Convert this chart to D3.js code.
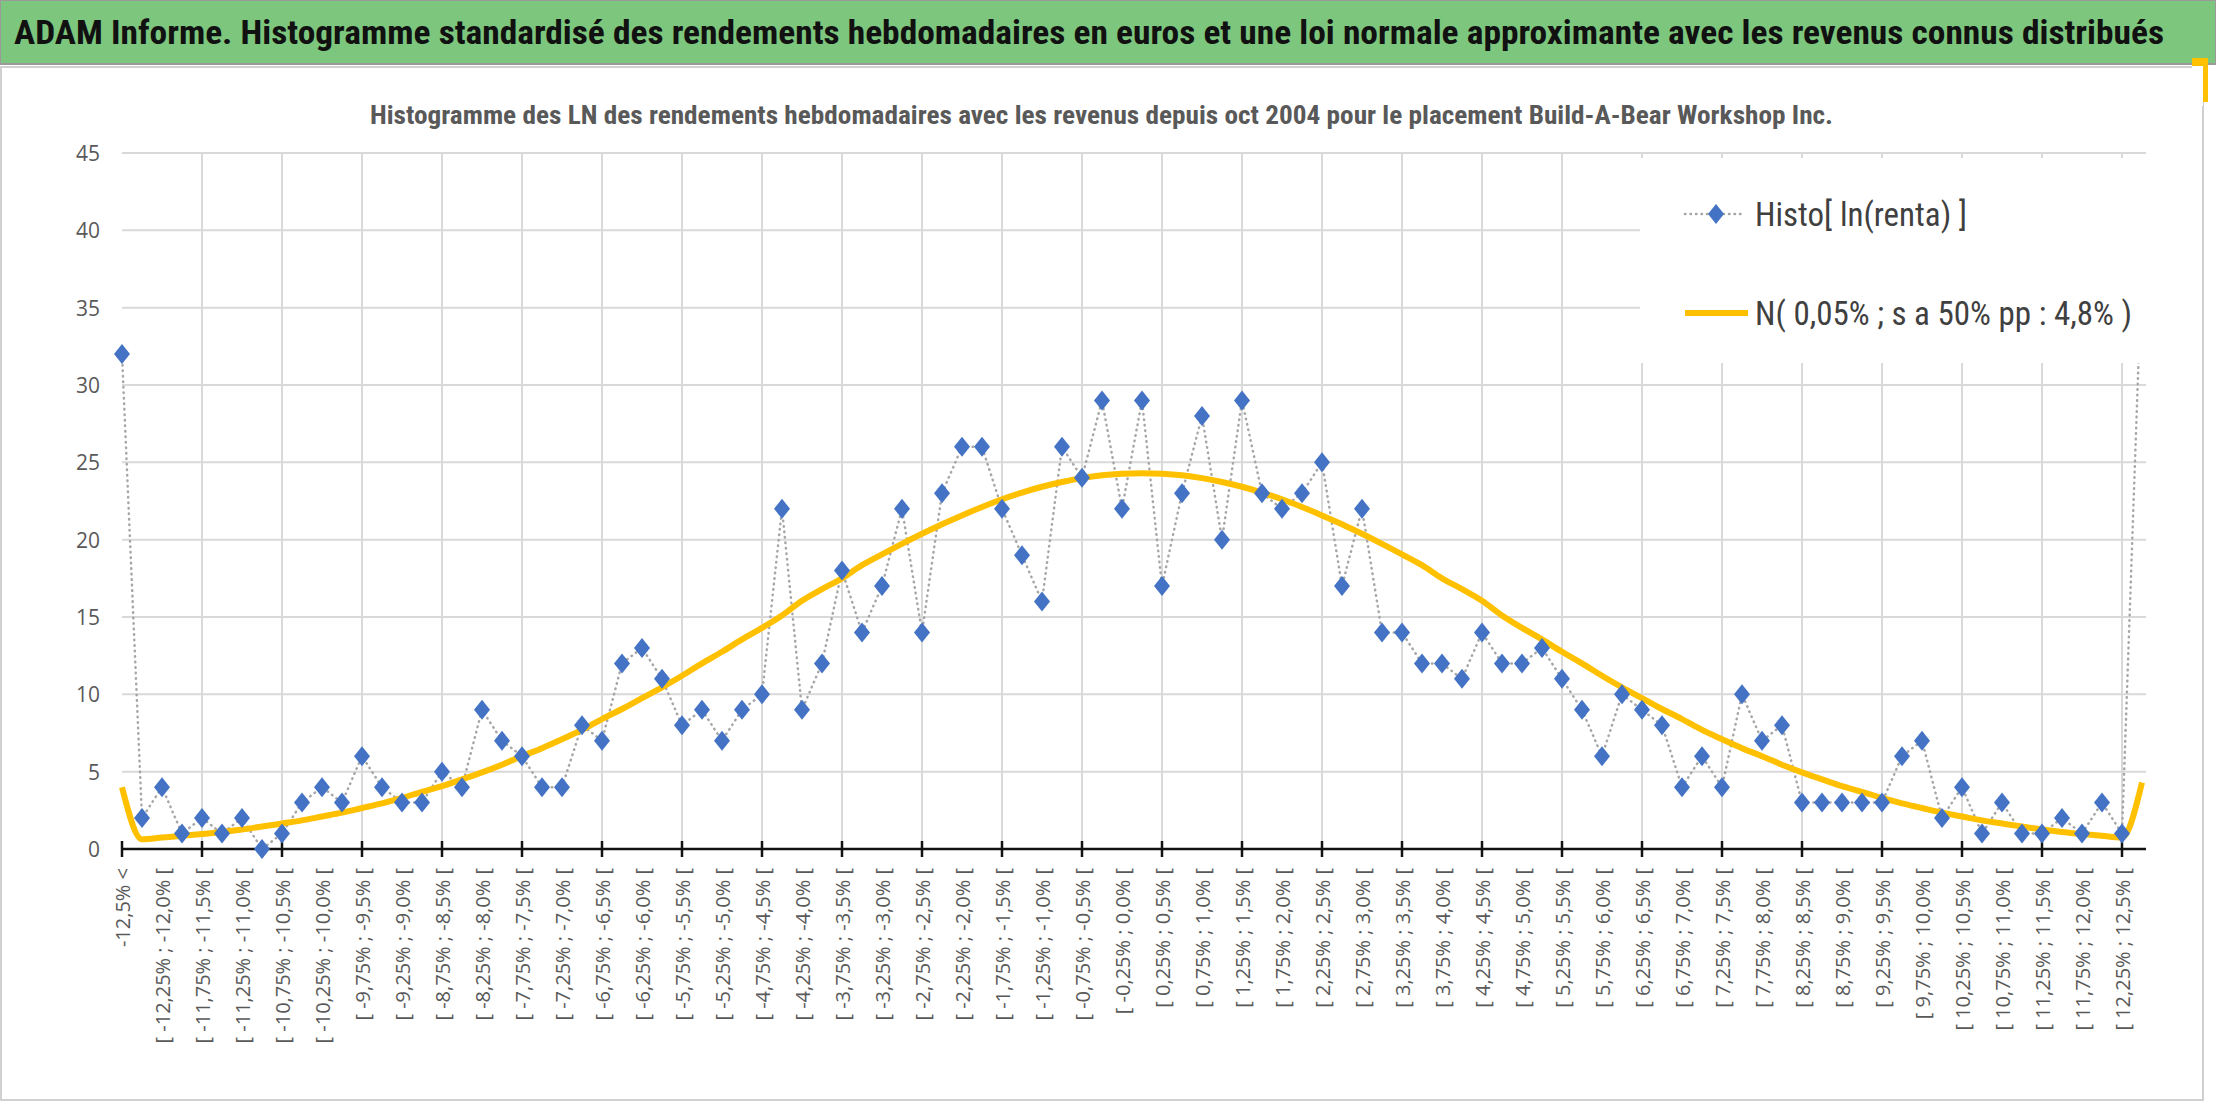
<!DOCTYPE html>
<html>
<head>
<meta charset="utf-8">
<script src="https://cdn.jsdelivr.net/npm/d3@7"></script>
<style>
  body { margin: 0; background: #fff; }
  text { font-family: "Liberation Sans Narrow", "Roboto Condensed", "Open Sans", sans-serif; }
  .lab { font-family: "Open Sans", sans-serif; }
</style>
</head>
<body>
<div id="adiv"></div>
<script>
// histogram counts per bin (index 0 = "-12,5% <", 1..100 = 0,25% bins, 101 = "12,5% <")
var histo = [32, 2, 4, 1, 2, 1, 2, 0, 1, 3, 4, 3, 6, 4, 3, 3, 5, 4, 9, 7,
             6, 4, 4, 8, 7, 12, 13, 11, 8, 9, 7, 9, 10, 22, 9, 12, 18, 14, 17, 22,
             14, 23, 26, 26, 22, 19, 16, 26, 24, 29, 22, 29, 17, 23, 28, 20, 29, 23, 22, 23,
             25, 17, 22, 14, 14, 12, 12, 11, 14, 12, 12, 13, 11, 9, 6, 10, 9, 8, 4, 6,
             4, 10, 7, 8, 3, 3, 3, 3, 3, 6, 7, 2, 4, 1, 3, 1, 1, 2, 1, 3,
             1, 38];

// approximating normal curve
var normale = [4.0, 0.63, 0.74, 0.85, 0.97, 1.1, 1.26, 1.45, 1.65, 1.85,
               2.1, 2.35, 2.65, 2.95, 3.3, 3.7, 4.06, 4.5, 4.95, 5.45,
               6.0, 6.52, 7.1, 7.7, 8.4, 9.05, 9.75, 10.45, 11.2, 12.0,
               12.75, 13.55, 14.3, 15.1, 16.05, 16.8, 17.5, 18.35, 19.05, 19.73,
               20.38, 21.0, 21.57, 22.11, 22.61, 23.04, 23.42, 23.73, 23.98, 24.16,
               24.26, 24.3, 24.26, 24.16, 23.98, 23.73, 23.42, 23.04, 22.61, 22.11,
               21.57, 21.0, 20.38, 19.73, 19.05, 18.35, 17.5, 16.8, 16.05, 15.1,
               14.3, 13.55, 12.75, 12.0, 11.2, 10.45, 9.75, 9.05, 8.4, 7.7,
               7.1, 6.52, 6.0, 5.45, 4.95, 4.5, 4.06, 3.7, 3.3, 2.95,
               2.65, 2.35, 2.1, 1.85, 1.65, 1.45, 1.26, 1.1, 0.97, 0.85,
               0.74, 4.3];

var yTicks = [0, 5, 10, 15, 20, 25, 30, 35, 40, 45];

var titre = "ADAM Informe. Histogramme standardisé des rendements hebdomadaires en euros et une loi normale approximante avec les revenus connus distribués";
var sousTitre = "Histogramme des LN des rendements hebdomadaires avec les revenus depuis oct 2004 pour le placement Build-A-Bear Workshop Inc.";
var legendNames = ["Histo[ ln(renta) ]", "N( 0,05% ; s a 50% pp : 4,8% )"];

function pct(v) {
  var s = Number.isInteger(v * 2) ? v.toFixed(1) : v.toFixed(2);
  if (s == "-0.0") s = "0.0";
  return s.replace(".", ",") + "%";
}
var categories = ["-12,5% <"];
for (let i = 1; i <= 100; i++) {
  var lo = -12.5 + 0.25 * (i - 1);
  categories.push("[ " + pct(lo) + " ; " + pct(lo + 0.25) + " [");
}
categories.push("12,5% <");

var W = 2216, H = 1103;
var svg = d3.select("#adiv").append("svg").attr("width", W).attr("height", H);

// header band
svg.append("rect").attr("x", 0).attr("y", 0).attr("width", W).attr("height", 64)
  .attr("fill", "#7dc67d").attr("stroke", "#9a9a9a").attr("stroke-width", 2);
svg.append("text").attr("x", 14).attr("y", 44).attr("font-size", 34).attr("font-weight", "bold")
  .attr("fill", "#111").attr("textLength", 2150).attr("lengthAdjust", "spacingAndGlyphs").text(titre);

// chart frame
svg.append("rect").attr("x", 1).attr("y", 67).attr("width", 2202).attr("height", 1033)
  .attr("fill", "none").attr("stroke", "#d0d0d0").attr("stroke-width", 2);
svg.append("rect").attr("x", 2192).attr("y", 58).attr("width", 16).attr("height", 44).attr("fill", "#ffc000");
svg.append("rect").attr("x", 2192).attr("y", 66).attr("width", 11).attr("height", 40).attr("fill", "#fff");

svg.append("text").attr("x", 370).attr("y", 124).attr("font-size", 25).attr("font-weight", "bold")
  .attr("fill", "#595959").attr("textLength", 1463).attr("lengthAdjust", "spacingAndGlyphs").text(sousTitre);

var x = d3.scalePoint().domain(d3.range(categories.length)).range([122, 2142]);
var y = d3.scaleLinear().domain([0, 45]).range([849, 153]);

// gridlines
svg.append("g").selectAll("line").data(yTicks.slice(1)).join("line")
  .attr("x1", 122).attr("x2", 2146).attr("y1", d => y(d)).attr("y2", d => y(d))
  .attr("stroke", "#d9d9d9").attr("stroke-width", 2);
var gridIdx = d3.range(4, categories.length, 4);
svg.append("g").selectAll("line").data(gridIdx).join("line")
  .attr("x1", d => x(d)).attr("x2", d => x(d)).attr("y1", y(45)).attr("y2", y(0))
  .attr("stroke", "#d9d9d9").attr("stroke-width", 2);

// y axis labels
svg.append("g").selectAll("text").data(yTicks).join("text").attr("class", "lab")
  .attr("x", 100).attr("y", d => y(d) + 8).attr("text-anchor", "end")
  .attr("font-size", 21).attr("fill", "#595959").text(d => d);

// x axis
svg.append("line").attr("x1", 122).attr("x2", 2146).attr("y1", y(0)).attr("y2", y(0))
  .attr("stroke", "#111").attr("stroke-width", 2.5);
svg.append("g").selectAll("line").data(d3.range(0, categories.length, 4)).join("line")
  .attr("x1", d => x(d)).attr("x2", d => x(d)).attr("y1", y(0) - 8).attr("y2", y(0) + 8)
  .attr("stroke", "#111").attr("stroke-width", 2.5);
svg.append("g").selectAll("text").data(d3.range(0, categories.length - 1, 2)).join("text").attr("class", "lab")
  .attr("transform", d => "translate(" + (x(d) + 8) + ",868) rotate(-90)")
  .attr("text-anchor", "end").attr("font-size", 20).attr("fill", "#595959")
  .text(d => categories[d]);

// series
svg.append("clipPath").attr("id", "clip").append("rect")
  .attr("x", 100).attr("y", y(45)).attr("width", 2060).attr("height", y(0) - y(45) + 20);
var plot = svg.append("g").attr("clip-path", "url(#clip)");

plot.append("path").datum(histo)
  .attr("fill", "none").attr("stroke", "#a6a6a6").attr("stroke-width", 2.5)
  .attr("stroke-dasharray", "0.5,5").attr("stroke-linecap", "round")
  .attr("d", d3.line().x((d, i) => x(i)).y(d => y(d)));

plot.append("path").datum(normale)
  .attr("fill", "none").attr("stroke", "#ffc000").attr("stroke-width", 6)
  .attr("d", d3.line().x((d, i) => x(i)).y(d => y(d)).curve(d3.curveMonotoneX));

var diamond = "M0,-10 L8,0 L0,10 L-8,0 Z";
plot.selectAll(".pt").data(histo).join("path").attr("class", "pt")
  .attr("transform", (d, i) => "translate(" + x(i) + "," + y(d) + ")")
  .attr("d", diamond).attr("fill", "#4472c4");

// legend
var leg = svg.append("g");
leg.append("rect").attr("x", 1640).attr("y", 158).attr("width", 512).attr("height", 205).attr("fill", "#fff");
leg.append("line").attr("x1", 1685).attr("x2", 1745).attr("y1", 214).attr("y2", 214)
  .attr("stroke", "#a6a6a6").attr("stroke-width", 2.5).attr("stroke-dasharray", "0.5,5").attr("stroke-linecap", "round");
leg.append("path").attr("transform", "translate(1716,214)").attr("d", diamond).attr("fill", "#4472c4");
leg.append("line").attr("x1", 1685).attr("x2", 1748).attr("y1", 313).attr("y2", 313)
  .attr("stroke", "#ffc000").attr("stroke-width", 6);
leg.selectAll("text").data(legendNames).join("text")
  .attr("x", 1755).attr("y", (d, i) => 226 + i * 99).attr("font-size", 33).attr("fill", "#404040")
  .text(d => d);
</script>
</body>
</html>
